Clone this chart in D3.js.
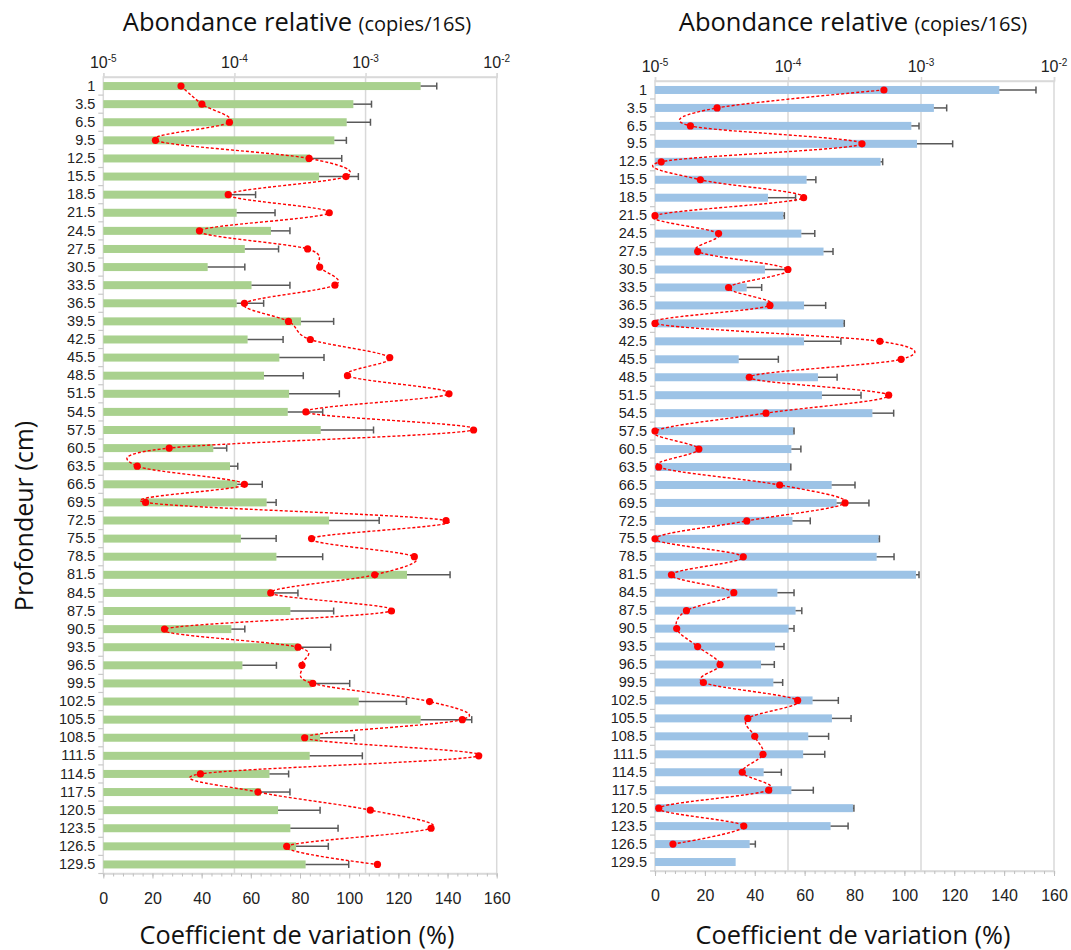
<!DOCTYPE html>
<html><head><meta charset="utf-8">
<script src="https://cdn.jsdelivr.net/npm/d3@7"></script>
<style>body{margin:0;background:#fff}</style>
</head><body><svg id="c" width="1071" height="950"></svg>
<script>
const depths = ["1","3.5","6.5","9.5","12.5","15.5","18.5","21.5","24.5","27.5","30.5","33.5","36.5","39.5","42.5","45.5","48.5","51.5","54.5","57.5","60.5","63.5","66.5","69.5","72.5","75.5","78.5","81.5","84.5","87.5","90.5","93.5","96.5","99.5","102.5","105.5","108.5","111.5","114.5","117.5","120.5","123.5","126.5","129.5"];

const abundanceA = [2.63e-3,8.07e-4,7.18e-4,5.78e-4,3.77e-4,4.42e-4,9.36e-5,1.04e-4,1.90e-4,1.20e-4,6.25e-5,1.35e-4,1.04e-4,3.22e-4,1.26e-4,2.20e-4,1.68e-4,2.61e-4,2.55e-4,4.55e-4,6.90e-5,9.25e-5,1.05e-4,1.76e-4,5.27e-4,1.12e-4,2.09e-4,2.07e-3,1.89e-4,2.67e-4,9.47e-5,3.07e-4,1.15e-4,3.88e-4,8.87e-4,2.63e-3,4.50e-4,3.75e-4,1.85e-4,1.59e-4,2.15e-4,2.67e-4,2.95e-4,3.49e-4];
const errTopA = [3.49e-3,1.11e-3,1.09e-3,7.14e-4,6.58e-4,8.81e-4,1.45e-4,2.04e-4,2.65e-4,2.17e-4,1.20e-4,2.65e-4,1.67e-4,5.71e-4,2.35e-4,4.82e-4,3.35e-4,6.31e-4,4.71e-4,1.15e-3,8.73e-5,1.06e-4,1.63e-4,2.08e-4,1.27e-3,2.08e-4,4.71e-4,4.41e-3,3.05e-4,5.71e-4,1.20e-4,5.42e-4,2.09e-4,7.57e-4,2.05e-3,6.45e-3,8.22e-4,9.45e-4,2.59e-4,2.65e-4,4.50e-4,6.17e-4,5.20e-4,7.44e-4];
const cvA = [31.6,40.1,51.3,21.2,83.7,98.7,50.8,91.9,39.1,83.1,88.0,94.2,57.4,75.3,84.2,116.5,99.3,140.6,82.4,150.6,26.8,13.8,57.4,17.2,139.4,84.7,126.5,110.4,68.1,117.2,24.9,79.2,80.8,85.2,132.7,146.0,81.9,152.7,39.5,62.9,108.6,133.3,74.6,111.5];

const abundanceB = [3.88e-3,1.25e-3,8.46e-4,9.33e-4,4.97e-4,1.38e-4,7.07e-5,9.22e-5,1.26e-4,1.85e-4,6.71e-5,4.89e-5,1.32e-4,2.62e-4,1.32e-4,4.26e-5,1.68e-4,1.80e-4,4.31e-4,1.10e-4,1.06e-4,1.04e-4,2.13e-4,2.32e-4,1.08e-4,4.81e-4,4.64e-4,9.17e-4,8.32e-5,1.14e-4,1.01e-4,7.98e-5,6.27e-5,7.76e-5,1.53e-4,2.14e-4,1.42e-4,1.30e-4,6.56e-5,1.06e-4,3.08e-4,2.09e-4,5.15e-5,4.04e-5];
const errTopB = [7.32e-3,1.56e-3,9.66e-4,1.73e-3,5.15e-4,1.62e-4,1.14e-4,9.39e-5,1.59e-4,2.18e-4,1.01e-4,6.34e-5,1.92e-4,2.65e-4,2.50e-4,8.46e-5,2.34e-4,3.54e-4,6.23e-4,1.11e-4,1.25e-4,1.05e-4,3.19e-4,4.06e-4,1.47e-4,4.87e-4,6.27e-4,9.66e-4,1.11e-4,1.27e-4,1.11e-4,9.33e-5,7.89e-5,9.12e-5,2.39e-4,2.98e-4,2.02e-4,1.89e-4,8.91e-5,1.55e-4,3.13e-4,2.83e-4,5.68e-5,null];
const cvB = [91.8,24.9,14.2,83.0,2.5,18.2,59.6,0,25.5,17.1,53.3,29.5,46.1,0,90.2,98.7,37.8,93.7,44.5,0,17.6,1.5,50.0,76.2,36.8,0,35.4,6.6,31.6,12.6,8.7,17.1,26.1,19.4,57.2,37.2,40.0,43.3,35.0,45.6,1.5,35.6,7.2,null];

const logTicks = [1e-5,1e-4,1e-3,1e-2];
const cvTicks = [0,20,40,60,80,100,120,140,160];

const svg = d3.select("#c");
const numFont = "Liberation Sans, Arial, sans-serif";
const titleFont = "Open Sans, sans-serif";
const gridCol = "#d9d9d9";

function panel(cfg){
  const g = svg.append("g");
  const xLog = d3.scaleLog().domain([1e-5,1e-2]).range([cfg.left,cfg.right]);
  const xLin = d3.scaleLinear().domain([0,160]).range([cfg.left,cfg.right]);
  const y = d3.scaleBand().domain(depths).range([cfg.top,cfg.bottom]).paddingInner(0).paddingOuter(0);
  const bw = 8;

  g.selectAll("line.grid").data(logTicks.slice(1,3)).enter().append("line")
    .attr("x1",d=>xLog(d)).attr("x2",d=>xLog(d)).attr("y1",cfg.top).attr("y2",cfg.bottom)
    .attr("stroke",gridCol).attr("stroke-width",1.5);
  g.append("rect").attr("x",cfg.left).attr("y",cfg.top).attr("width",cfg.right-cfg.left).attr("height",cfg.bottom-cfg.top)
    .attr("fill","none").attr("stroke",gridCol).attr("stroke-width",1.5);

  const topAx = d3.axisTop(xLog).tickValues(logTicks).tickSize(4).tickFormat("");
  const ta = g.append("g").attr("transform",`translate(0,${cfg.top})`).call(topAx);
  ta.select(".domain").attr("stroke",gridCol).attr("stroke-width",1.5);
  ta.selectAll(".tick line").attr("stroke",gridCol).attr("stroke-width",1.5);
  logTicks.forEach(t=>{
    const e = Math.round(Math.log10(t));
    const tx = g.append("text").attr("x",xLog(t)).attr("y",cfg.top-9).attr("text-anchor","middle")
      .attr("font-family",numFont).attr("font-size",16).attr("fill","#222");
    tx.append("tspan").text("10");
    tx.append("tspan").attr("font-size",10).attr("dy",-6).text(String(e));
  });

  const minor = d3.range(0,161,4);
  const bAx = d3.axisBottom(xLin).tickValues(minor).tickSize(3).tickFormat("");
  const ba = g.append("g").attr("transform",`translate(0,${cfg.bottom})`).call(bAx);
  ba.select(".domain").attr("stroke",gridCol).attr("stroke-width",1.5);
  ba.selectAll(".tick line").attr("stroke","#bfbfbf");
  const bAx2 = d3.axisBottom(xLin).tickValues(cvTicks).tickSize(5).tickPadding(14).tickFormat(d3.format("d"));
  const bb = g.append("g").attr("transform",`translate(0,${cfg.bottom})`).call(bAx2);
  bb.select(".domain").remove();
  bb.selectAll(".tick line").attr("stroke","#bfbfbf");
  bb.selectAll(".tick text").attr("font-family",numFont).attr("font-size",16).attr("fill","#222");

  const la = g.append("g").attr("transform",`translate(${cfg.left},0)`)
    .call(d3.axisLeft(y).tickSize(0).tickPadding(8));
  la.select(".domain").remove();
  la.selectAll(".tick text").attr("font-family",numFont).attr("font-size",14.5).attr("fill","#222");
  g.selectAll("line.bt").data(depths.slice(1).concat(["__end"])).enter().append("line")
    .attr("x1",cfg.left-5).attr("x2",cfg.left)
    .attr("y1",(d,i)=> i<depths.length-1 ? y(d) : cfg.bottom)
    .attr("y2",(d,i)=> i<depths.length-1 ? y(d) : cfg.bottom)
    .attr("stroke","#c8c8c8").attr("stroke-width",1.2);

  const rows = depths.map((d,i)=>({d, v:cfg.ab[i], e:cfg.err[i], cv:cfg.cv[i]}));
  g.selectAll("rect.bar").data(rows).enter().append("rect")
    .attr("x",xLog(1e-5)).attr("y",r=>y(r.d)+y.bandwidth()/2-bw/2)
    .attr("width",r=>xLog(r.v)-xLog(1e-5)).attr("height",bw).attr("fill",cfg.color);

  const er = rows.filter(r=>r.e!=null);
  g.selectAll("line.err").data(er).enter().append("line")
    .attr("x1",r=>xLog(r.v)).attr("x2",r=>xLog(r.e))
    .attr("y1",r=>y(r.d)+y.bandwidth()/2).attr("y2",r=>y(r.d)+y.bandwidth()/2)
    .attr("stroke","#595959").attr("stroke-width",1.5);
  g.selectAll("line.cap").data(er).enter().append("line")
    .attr("x1",r=>xLog(r.e)).attr("x2",r=>xLog(r.e))
    .attr("y1",r=>y(r.d)+y.bandwidth()/2-3.5).attr("y2",r=>y(r.d)+y.bandwidth()/2+3.5)
    .attr("stroke","#595959").attr("stroke-width",1.5);

  const pts = rows.filter(r=>r.cv!=null);
  const line = d3.line().x(r=>xLin(r.cv)).y(r=>y(r.d)+y.bandwidth()/2).curve(d3.curveCardinal.tension(0));
  g.append("path").attr("d",line(pts)).attr("fill","none").attr("stroke","#ff0000")
    .attr("stroke-width",1.4).attr("stroke-dasharray","3,2");
  g.selectAll("circle.pt").data(pts).enter().append("circle")
    .attr("cx",r=>xLin(r.cv)).attr("cy",r=>y(r.d)+y.bandwidth()/2).attr("r",3.6).attr("fill","#ff0000");

  const t = g.append("text").attr("x",cfg.titleX).attr("y",31).attr("text-anchor","middle")
    .attr("font-family",titleFont).attr("fill","#111");
  t.append("tspan").attr("font-size",25.5).text("Abondance relative ");
  t.append("tspan").attr("font-size",20).text("(copies/16S)");
  g.append("text").attr("x",cfg.titleX).attr("y",944).attr("text-anchor","middle")
    .attr("font-family",titleFont).attr("font-size",25.3).attr("fill","#111").text("Coefficient de variation (%)");
}

panel({left:103.3,right:496.7,top:77,bottom:873.5,color:"#a9d18e",ab:abundanceA,err:errTopA,cv:cvA,titleX:297});
panel({left:655,right:1054,top:81,bottom:871,color:"#9dc3e6",ab:abundanceB,err:errTopB,cv:cvB,titleX:853});

svg.append("text").attr("transform","translate(33,516) rotate(-90)").attr("text-anchor","middle")
  .attr("font-family",titleFont).attr("font-size",25).attr("fill","#111").text("Profondeur (cm)");
</script></body></html>
